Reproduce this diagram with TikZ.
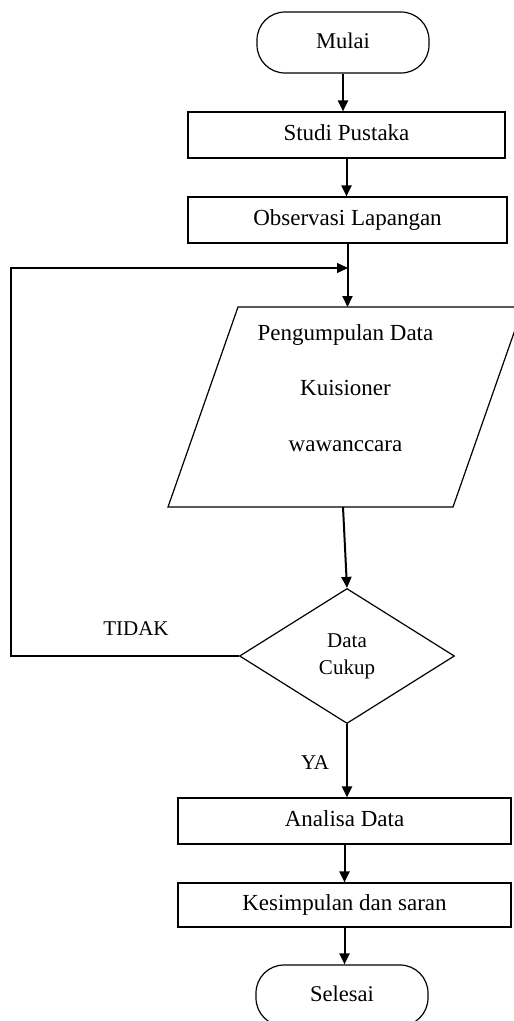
\documentclass[tikz,border=0pt]{standalone}
\usepackage{fontspec}
\setmainfont{Liberation Serif}
\usetikzlibrary{shapes.geometric,arrows.meta}
\begin{document}
\begin{tikzpicture}[x=1pt,y=-1pt,
  box/.style={draw,line width=1.2pt,minimum height=46pt,inner sep=0pt,text height=16pt,text depth=5pt,font=\fontsize{23}{27}\selectfont},
  term/.style={draw,line width=1.2pt,rounded corners=28pt,minimum width=172pt,minimum height=61pt,inner sep=0pt,text height=16pt,text depth=5pt,font=\fontsize{22.5}{27}\selectfont},
  arr/.style={line width=2pt,-{Triangle[length=11pt,width=10pt]}},
  loopline/.style={line width=1.3pt,-{Triangle[length=11pt,width=10pt]}},
  lbl/.style={font=\fontsize{21}{25}\selectfont,inner sep=0pt}]
\useasboundingbox (0,0) rectangle (514,1021);
\clip (0,0) rectangle (514,1021);
\fill[white] (0,0) rectangle (514,1021);

\node[term] (mulai) at (343,42.5) {Mulai};
\node[box,minimum width=317pt] (studi) at (346.5,135) {Studi Pustaka};
\node[box,minimum width=319pt] (obs) at (347.5,220) {Observasi Lapangan};

% parallelogram
\coordinate (pgBL) at (168,507);
\coordinate (pgBR) at (453,507);
\coordinate (pgTR) at (523,307);
\coordinate (pgTL) at (238,307);
\coordinate (pgB) at (343,507);
\draw[line width=1.2pt] (pgBL) -- (pgBR) -- (pgTR) -- (pgTL) -- cycle;
\node[align=center,inner sep=0pt,font=\fontsize{23}{55.5}\selectfont] (pgtext) at (345.5,388) {Pengumpulan Data\\Kuisioner\\wawanccara};

\node[draw,diamond,line width=1.2pt,minimum width=215pt,minimum height=135pt,inner sep=0pt,align=center,font=\fontsize{21}{27}\selectfont] (dc) at (347,656) {Data\\Cukup};

\node[box,minimum width=333pt] (ana) at (344.5,821) {Analisa Data};
\node[box,minimum width=333pt,minimum height=44pt] (kes) at (344.5,905) {Kesimpulan dan saran};
\node[term] (sel) at (342,995.5) {Selesai};

\node[lbl] (tidak) at (136,629) {TIDAK};
\node[lbl] (ya) at (315,763) {YA};

\coordinate (L2) at (11,268);
\coordinate (J) at (348,268);

\draw[arr] (mulai.south) -- (mulai.south |- studi.north);
\draw[arr] (studi.south) -- (studi.south |- obs.north);
\draw[arr] (obs.south) -- (obs.south |- pgTL);
\draw[arr] (pgB) -- (dc.north);
\draw[loopline] (dc.west) -| (L2) -- (J);
\draw[arr] (dc.south) -- (dc.south |- ana.north);
\draw[arr] (ana.south) -- (ana.south |- kes.north);
\draw[arr] (kes.south) -- (kes.south |- sel.north);
\end{tikzpicture}
\end{document}
